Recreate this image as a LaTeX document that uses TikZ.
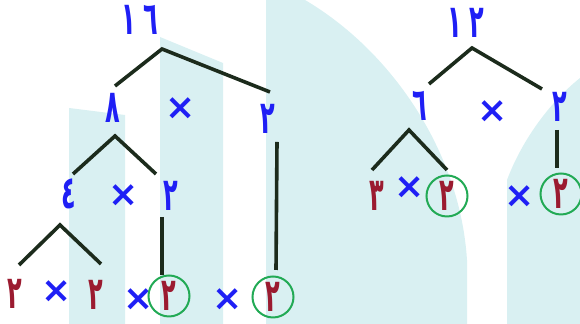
\documentclass[tikz,border=0pt]{standalone}
\usepackage{fontspec}
\newfontfamily\arabicfont[Script=Arabic]{DejaVu Sans}
\usetikzlibrary{positioning}

\definecolor{numblue}{HTML}{1F1FF5}
\definecolor{numred}{HTML}{9B1B30}
\definecolor{branch}{HTML}{1C2B1C}
\definecolor{ringgreen}{HTML}{22AA55}
\definecolor{bgcyan}{HTML}{D9F0F2}

\newcommand{\dig}[1]{\scalebox{0.6}[1.15]{#1}}

\tikzset{
	num/.style={text=numblue, inner sep=0pt, font=\arabicfont\bfseries\fontsize{20}{24}\selectfont},
	prime/.style={num, text=numred},
	times/.style={text=numblue, inner sep=0pt, font=\arabicfont\bfseries\fontsize{18}{22}\selectfont},
	ringed/.style={prime, draw=ringgreen, line width=1pt, circle, minimum size=20.5pt},
	branchline/.style={draw=branch, line width=1.8pt}
}

\begin{document}
\begin{tikzpicture}[x=0.5pt, y=-0.5pt]
		\useasboundingbox (0,0) rectangle (580,324);
		
		\fill[bgcyan] (69,108) -- (125,115) -- (125,324) -- (69,324) -- cycle;
		\fill[bgcyan] (160,37) -- (223,63) -- (223,324) -- (160,324) -- cycle;
		\fill[bgcyan] (266,0) -- (305,0) .. controls (390,50) and (460,150) .. (467,260) -- (467,324) -- (266,324) -- cycle;
		\fill[bgcyan] (507,324) -- (507,180) .. controls (522,140) and (550,102) .. (580,78) -- (580,324) -- cycle;
		
		% first tree
		\node[num] (r16) at (140,20) {\dig{١\,\,٦}};
		\node[num] (n8) at (113,108) {\dig{٨}};
		\node[times] (x8) at (181,109) {×};
		\node[num] (n2a) at (268,119) {\dig{٢}};
		\node[num] (n4) at (69,194) {\dig{٤}};
		\node[times] (x4) at (124,196) {×};
		\node[num] (n2b) at (171,196) {\dig{٢}};
		\node[prime] (p1) at (15,294) {\dig{٢}};
		\node[times] (x1) at (57,292) {×};
		\node[prime] (p2) at (96,295) {\dig{٢}};
		\node[times] (x2) at (139,300) {×};
		\node[ringed] (p3) at (169,296) {\dig{٢}};
		\node[times] (x3) at (228,300) {×};
		\node[ringed] (p4) at (273,297) {\dig{٢}};
		
		\coordinate (a16) at (162,49);
		\coordinate (a8) at (115,136);
		\coordinate (a4) at (60,225);
		\draw[branchline] (115,86) -- (a16) -- (270,92);
		\draw[branchline] (73,174) -- (a8) -- (156,174);
		\draw[branchline] (19,265) -- (a4) -- (101,264);
		\draw[branchline] (162,217) -- (162,275);
		\draw[branchline] (277,142) -- (276,270);
		
		% second tree
		\node[num] (r12) at (466,23) {\dig{١\,\,٢}};
		\node[num] (n6) at (420,106) {\dig{٦}};
		\node[times] (x6) at (493,112) {×};
		\node[num] (n2c) at (560,107) {\dig{٢}};
		\node[prime] (p5) at (377,196) {\dig{٣}};
		\node[times] (x5) at (410,188) {×};
		\node[ringed] (p6) at (447,196) {\dig{٢}};
		\node[times] (x7) at (520,197) {×};
		\node[ringed] (p7) at (561,194) {\dig{٢}};
		
		\coordinate (a12) at (472,48);
		\coordinate (a6) at (409,130);
		\draw[branchline] (429,84) -- (a12) -- (542,89);
		\draw[branchline] (372,170) -- (a6) -- (447,170);
		\draw[branchline] (557,130) -- (557,168);
	\end{tikzpicture}
\end{document}
